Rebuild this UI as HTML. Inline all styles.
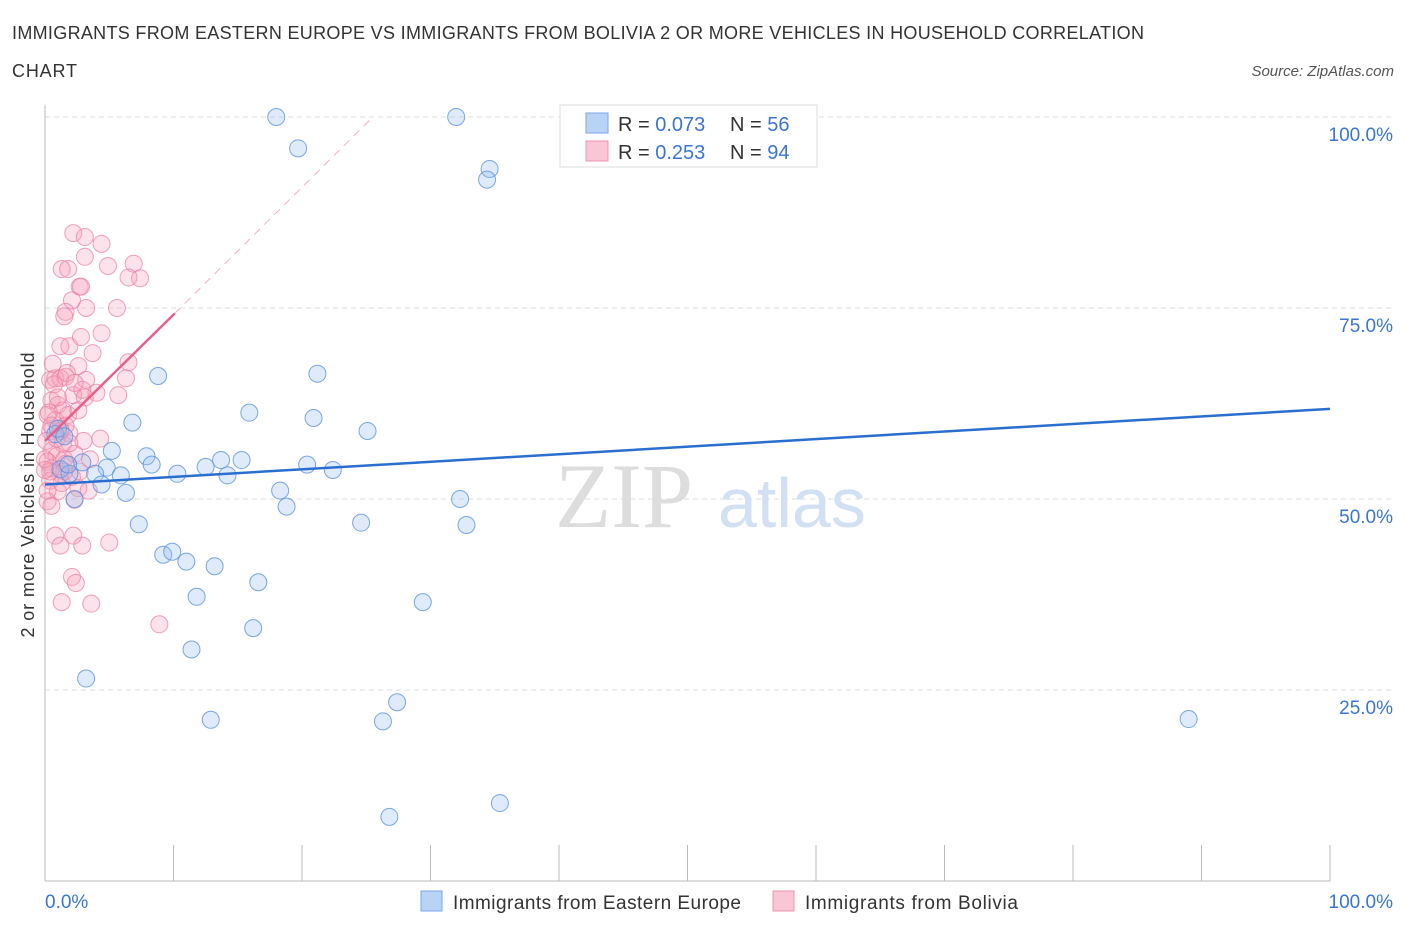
<!DOCTYPE html>
<html><head><meta charset="utf-8"><style>
body{margin:0;background:#fff;font-family:"Liberation Sans",sans-serif;}
svg{display:block}
</style></head><body>
<svg id="chart" width="1406" height="930" xmlns="http://www.w3.org/2000/svg" font-family="Liberation Sans, sans-serif">
<text x="12" y="39" font-size="18" fill="#333" textLength="1132" lengthAdjust="spacing">IMMIGRANTS FROM EASTERN EUROPE VS IMMIGRANTS FROM BOLIVIA 2 OR MORE VEHICLES IN HOUSEHOLD CORRELATION</text>
<text x="12" y="77" font-size="18" fill="#333" textLength="65" lengthAdjust="spacing">CHART</text>
<text x="1394" y="76" font-size="15" fill="#555" text-anchor="end" font-style="italic">Source: ZipAtlas.com</text>
<g id="grid"></g>
<text x="555" y="527" font-size="92" fill="#ddd" font-family="Liberation Serif, serif">ZIP</text>
<text x="718" y="527" font-size="70" fill="#d2e0f3">atlas</text>
<g id="pts"></g>
<g id="lines"></g>
<text transform="translate(34,495) rotate(-90)" font-size="18" fill="#333" text-anchor="middle" textLength="285" lengthAdjust="spacing">2 or more Vehicles in Household</text>
<text x="45" y="908" font-size="19" fill="#3a76d0">0.0%</text>
<text x="1393" y="908" font-size="19" fill="#3a76d0" text-anchor="end">100.0%</text>
<g>
<rect x="560" y="105" width="257" height="62" fill="#fff" stroke="#ddd"/>
<rect x="586" y="113" width="22" height="20" fill="#b9d3f5" stroke="#7aa6e6"/>
<rect x="586" y="141" width="22" height="20" fill="#f9c6d5" stroke="#ec94b0"/>
<text x="618" y="131" font-size="20" fill="#333">R = <tspan fill="#3a76d0">0.073</tspan><tspan x="730">N = </tspan><tspan fill="#3a76d0">56</tspan></text>
<text x="618" y="159" font-size="20" fill="#333">R = <tspan fill="#3a76d0">0.253</tspan><tspan x="730">N = </tspan><tspan fill="#3a76d0">94</tspan></text>
</g>
<g>
<rect x="421" y="891" width="21" height="20" fill="#b9d3f5" stroke="#7aa6e6"/>
<text x="453" y="909" font-size="19" fill="#333" textLength="288" lengthAdjust="spacing">Immigrants from Eastern Europe</text>
<rect x="773" y="891" width="21" height="20" fill="#f9c6d5" stroke="#ec94b0"/>
<text x="805" y="909" font-size="19" fill="#333" textLength="213" lengthAdjust="spacing">Immigrants from Bolivia</text>
</g>
</svg>
<script>
const yTicks=[25,50,75,100];
const yTickLabels=["25.0%","50.0%","75.0%","100.0%"];
const blueX=[18,32,19.7,34.6,34.4,8.8,21.2,15.9,20.9,6.8,25.1,5.2,7.9,8.3,13.7,15.3,2.9,4.8,12.5,10.3,20.4,22.4,3.9,5.9,14.2,1.2,1.9,4.4,6.3,18.3,18.8,2.3,32.3,7.3,24.6,32.8,9.2,9.9,11,13.2,16.6,11.8,29.4,16.2,11.4,3.2,27.4,12.9,26.3,89,35.4,26.8,0.8,1,1.5,1.8];
const blueY=[100,100,95.9,93.2,91.8,66.1,66.4,61.3,60.6,60,58.9,56.3,55.6,54.5,55.1,55.1,54.8,54.1,54.2,53.3,54.5,53.8,53.3,53.1,53.1,53.9,53.3,51.9,50.8,51.1,49,50,50,46.7,46.9,46.6,42.7,43.1,41.8,41.2,39.1,37.2,36.5,33.1,30.3,26.5,23.4,21.1,20.9,21.2,10.2,8.4,58.5,59.2,58.2,54.5];
const pinkX=[2.2,3.1,4.4,1.3,1.8,3.1,4.9,6.9,7.4,6.5,2.7,2.8,2.1,3.2,5.6,1.6,1.5,1.2,1.9,2.8,4.4,3.7,2.6,6.5,0.4,0.8,1.2,1.6,0.7,3.2,4.0,6.3,5.7,2.2,2.9,0.5,1,1.4,0.2,0.8,1.8,0.4,1.2,1.9,3,1.4,0.5,0.9,1.5,2.3,0.2,0.5,2.7,1.2,2.1,0.4,1.3,2.6,1,2.3,0.2,0.5,0.8,2.2,1.2,2.9,5,2.1,2.4,1.3,3.6,8.9,0.4,1.6,0.1,0.9,1.6,2.6,0,0.2,1.9,3.5,4.3,1,1.7,2.3,0.6,0.3,1.2,3.4,0,0.5,1.5,3.1];
const pinkY=[84.8,84.3,83.4,80.1,80.1,81.7,80.5,80.8,78.9,79,77.8,77.8,76,75,75,74.5,73.9,70,70,71.2,71.7,69.1,67.4,67.9,65.6,65.8,65.8,66,65,65.6,63.9,65.8,63.6,63.6,64.3,62.9,62.3,61.6,61,60.3,61,58.9,59.2,58.6,57.6,57.2,56.3,55.6,55.2,55.9,54.9,54,53.6,53.3,52.9,52.4,52.1,51.4,51,49.9,49.7,49.1,45.2,45.2,43.9,43.9,44.3,39.8,39,36.5,36.3,33.6,53.6,54.6,57.6,57.9,59.6,61.6,55.2,51.1,57.3,55.2,57.9,63.3,66.5,65.2,67.7,61.3,58.9,51.1,53.8,59.6,53.6,63.3];
const X0=45,X1=1330,Y0=881,Y100=117;
const sx=v=>X0+(X1-X0)*v/100, sy=v=>Y0+(Y100-Y0)*v/100;
const NS="http://www.w3.org/2000/svg";
function mk(tag,attrs,parent){const e=document.createElementNS(NS,tag);for(const k in attrs)e.setAttribute(k,attrs[k]);parent.appendChild(e);return e;}
const grid=document.getElementById('grid');
yTicks.forEach((t,i)=>{
 const l=mk('line',{x1:X0,x2:1392,y1:sy(t),y2:sy(t),stroke:'#ddd','stroke-dasharray':'5,4'},grid);
 
 
 const tx=mk('text',{x:1393,y:sy(t)+24,'font-size':19,fill:'#3a76d0','text-anchor':'end'},grid);
 tx.textContent=yTickLabels[i];
 
 
});
const ax=mk('line',{x1:X0,x2:X0,y1:105,y2:Y0,stroke:'#bbb'},grid);


const bx=mk('line',{x1:X0,x2:X1,y1:Y0,y2:Y0,stroke:'#bbb'},grid);


for(let i=0;i<=10;i++){const t=mk('line',{x1:sx(i*10),x2:sx(i*10),y1:Y0-36,y2:Y0,stroke:'#bbb'},grid);
 
 }
const pts=document.getElementById('pts');
pinkX.forEach((v,i)=>{const c=mk('circle',{cx:sx(v),cy:sy(pinkY[i]),r:8.5,fill:'rgba(245,160,185,0.3)',stroke:'rgba(236,130,165,0.75)','stroke-width':1},pts);
 
 });
blueX.forEach((v,i)=>{const c=mk('circle',{cx:sx(v),cy:sy(blueY[i]),r:8.5,fill:'rgba(150,190,240,0.3)',stroke:'rgba(80,140,220,0.75)','stroke-width':1},pts);
 
 });
const lines=document.getElementById('lines');
const bl=mk('line',{x1:sx(0),y1:sy(51.9),x2:sx(100),y2:sy(61.8),stroke:'#2a6fd0','stroke-width':2.5},lines);


const pl=mk('line',{x1:sx(0),y1:sy(57.6),x2:sx(10.1),y2:sy(74.3),stroke:'#e8608a','stroke-width':2.5},lines);


const pd=mk('line',{x1:sx(10.1),y1:sy(74.3),x2:sx(25.4),y2:sy(99.8),stroke:'#f0b0c4','stroke-width':1,'stroke-dasharray':'8,6'},lines);


</script>
</body></html>
